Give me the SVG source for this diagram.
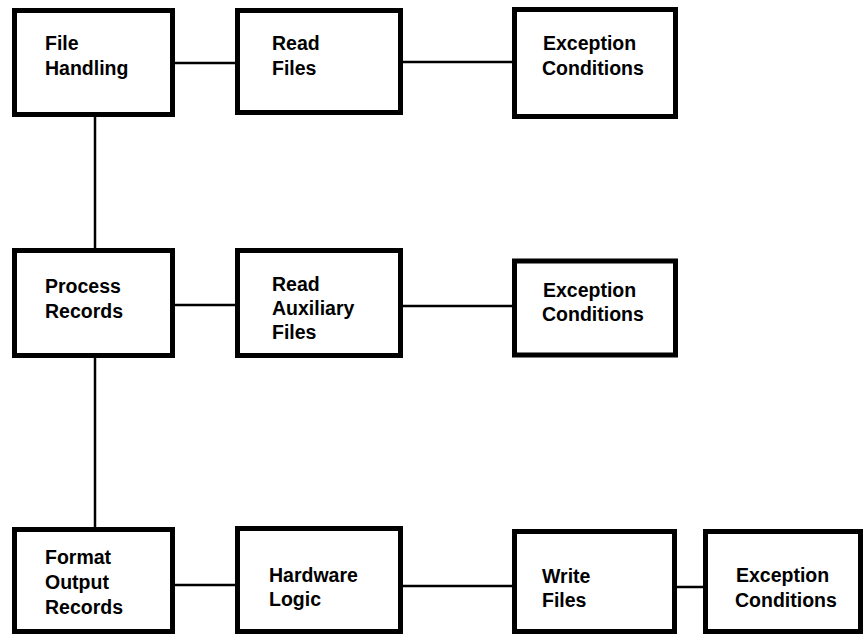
<svg xmlns="http://www.w3.org/2000/svg" width="866" height="636" viewBox="0 0 866 636">
<style>
.box{fill:#fff;stroke:#000;stroke-width:5}
.lbl{font-family:"Liberation Sans",Arial,sans-serif;font-weight:bold;font-size:19.5px;fill:#000}
.con{stroke:#000;stroke-width:2.5;fill:none}
</style>
<rect width="866" height="636" fill="#fff"/>
<g id="connectors">
<line class="con" x1="175" y1="63" x2="235" y2="63"/>
<line class="con" x1="403" y1="62" x2="512" y2="62"/>
<line class="con" x1="95" y1="117" x2="95" y2="248"/>
<line class="con" x1="175" y1="305" x2="235" y2="305"/>
<line class="con" x1="403" y1="306" x2="512" y2="306"/>
<line class="con" x1="95" y1="358" x2="95" y2="527"/>
<line class="con" x1="175" y1="585" x2="235" y2="585"/>
<line class="con" x1="403" y1="586" x2="512" y2="586"/>
<line class="con" x1="677" y1="587" x2="703" y2="587"/>
</g>
<g id="file-handling">
<rect class="box" x="14.5" y="10.5" width="158" height="104"/>
<text class="lbl" x="45" y="50">File</text>
<text class="lbl" x="45" y="75">Handling</text>
</g>
<g id="read-files">
<rect class="box" x="237.5" y="10.5" width="163" height="102"/>
<text class="lbl" x="272" y="50">Read</text>
<text class="lbl" x="272" y="75">Files</text>
</g>
<g id="exception-1">
<rect class="box" x="514.5" y="9.5" width="161" height="107"/>
<text class="lbl" x="543" y="50">Exception</text>
<text class="lbl" x="542" y="75">Conditions</text>
</g>
<g id="process-records">
<rect class="box" x="14.5" y="250.5" width="158" height="105"/>
<text class="lbl" x="45" y="293">Process</text>
<text class="lbl" x="45" y="318">Records</text>
</g>
<g id="read-auxiliary-files">
<rect class="box" x="237.5" y="250.5" width="163" height="105"/>
<text class="lbl" x="272" y="291">Read</text>
<text class="lbl" x="272" y="315">Auxiliary</text>
<text class="lbl" x="272" y="339">Files</text>
</g>
<g id="exception-2">
<rect class="box" x="514.5" y="261" width="161" height="94"/>
<text class="lbl" x="543" y="297">Exception</text>
<text class="lbl" x="542" y="321">Conditions</text>
</g>
<g id="format-output-records">
<rect class="box" x="14.5" y="529.5" width="158" height="102"/>
<text class="lbl" x="45" y="564">Format</text>
<text class="lbl" x="45" y="589">Output</text>
<text class="lbl" x="45" y="614">Records</text>
</g>
<g id="hardware-logic">
<rect class="box" x="237.5" y="528.5" width="163" height="103"/>
<text class="lbl" x="269" y="582">Hardware</text>
<text class="lbl" x="269" y="606">Logic</text>
</g>
<g id="write-files">
<rect class="box" x="514.5" y="531.5" width="160" height="100"/>
<text class="lbl" x="542" y="583">Write</text>
<text class="lbl" x="542" y="607">Files</text>
</g>
<g id="exception-3">
<rect class="box" x="705.5" y="531.5" width="155" height="100"/>
<text class="lbl" x="736" y="582">Exception</text>
<text class="lbl" x="735" y="607">Conditions</text>
</g>
</svg>
